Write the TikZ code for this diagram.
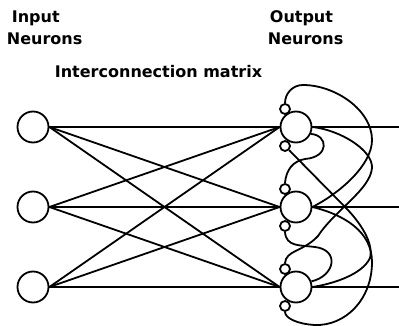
\documentclass[tikz,border=0pt]{standalone}
\usepackage{fontspec}
\setmainfont{DejaVu Sans}
\usetikzlibrary{positioning}

\begin{document}
\begin{tikzpicture}[
  x=1pt, y=-1pt,
  line width=1.8pt,
  neuron/.style={
    circle,
    draw,
    minimum size=31pt,
    inner sep=0pt
  },
  synapse/.style={circle, draw, minimum size=10pt, inner sep=0pt},
  lbl/.style={anchor=base west, inner sep=0pt, font=\fontsize{16}{19}\selectfont\bfseries}
]
\useasboundingbox (0,0) rectangle (399,326);

% --- Labels ---
\node[lbl] (inlbl)   at (11,23) {Input};
\node[lbl] (inlbl2)  at (6,45)  {Neurons};
\node[lbl] (outlbl)  at (269,23) {Output};
\node[lbl] (outlbl2) at (267,45) {Neurons};
\node[lbl] (matlbl)  at (54,78) {Interconnection matrix};

% --- Neurons, synapses and output lines ---
\foreach \i/\y in {1/127, 2/207, 3/287} {
  \node[neuron] (in\i) at (33,\y) {};
  \node[neuron] (out\i) at (296,\y) {};
  \node[synapse] (top\i) at (285,\y-18) {};
  \node[synapse] (bot\i) at (285,\y+19) {};
  \coordinate (end\i) at (399,\y);
  \draw (out\i.east) -- (end\i);
}

% --- Interconnection matrix ---
\foreach \i in {1,2,3}
  \foreach \j in {1,2,3}
    \draw (in\i.east) -- (out\j.west);

% --- Lateral feedback ---
% 2 -> 1, over the top
\draw (out2.east) .. controls (340,193) and (372,165) .. (372,140)
  .. controls (372,110) and (335,85) .. (303,85)
  .. controls (292,85) and (285,94) .. (top1.north);
% 2 -> 3, under the bottom
\draw (out2.east) .. controls (345,215) and (372,232) .. (372,262)
  .. controls (372,300) and (345,326) .. (315,325)
  .. controls (297,324) and (285,318) .. (bot3.south);
% 1 -> 3
\draw (out1.east) .. controls (340,130) and (373,150) .. (372,168)
  .. controls (370,190) and (335,210) .. (318,236)
  .. controls (303,252) and (286,250) .. (top3.north);
% 3 -> 1
\draw (bot1.-45) -- (345,207) .. controls (360,222) and (374,243) .. (370,258)
  .. controls (362,275) and (332,284) .. (out3.east);
% 1 -> 2
\draw (out1.-25) .. controls (328,135) and (330,157) .. (305,159)
  .. controls (293,161) and (286,170) .. (top2.north);
% 3 -> 2
\draw (out3.20) .. controls (335,276) and (340,250) .. (315,247)
  .. controls (300,245) and (286,247) .. (bot2.south);

\end{tikzpicture}
\end{document}
